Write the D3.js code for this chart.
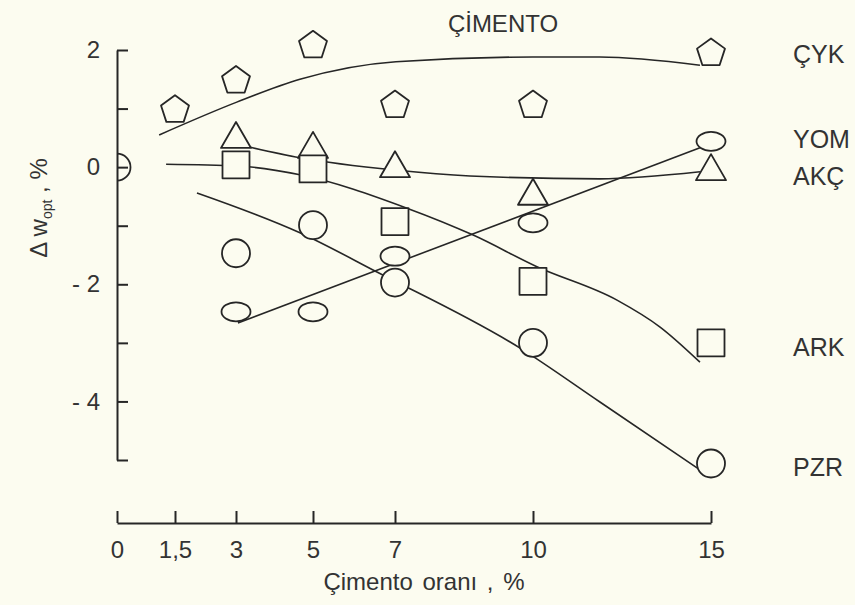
<!DOCTYPE html>
<html>
<head>
<meta charset="utf-8">
<script src="https://cdn.jsdelivr.net/npm/d3@7"></script>
<style>
  html, body { margin: 0; padding: 0; background: #fcfcf0; }
  svg { display: block; }
  text { font-family: "Liberation Sans", Arial, sans-serif; fill: #333; }
</style>
</head>
<body>
<svg id="chart" width="855" height="605"></svg>
<script>
// tick values of the cement axis (uneven spacing on the original drawing)
var xTicks = [0, 1.5, 3, 5, 7, 10, 15];
var xTickLabels = ['0', '1,5', '3', '5', '7', '10', '15'];
var yTicks = [-5, -4, -3, -2, -1, 0, 1, 2];

// measured points
var cykX = [1.5, 3, 5, 7, 10, 15];
var cykY = [1.0, 1.5, 2.1, 1.08, 1.08, 1.97];
var ptX = [3, 5, 7, 10, 15];
var yomY = [-2.47, -2.47, -1.52, -0.95, 0.44];
var akcY = [0.55, 0.38, 0.05, -0.42, 0.0];
var arkY = [0.04, -0.03, -0.93, -1.95, -3.0];
var pzrY = [-1.47, -0.99, -1.97, -3.0, -5.06];

// fitted curves
var cykFit = [[1.09, 0.55], [3.02, 1.11], [4.66, 1.50], [7.02, 1.80], [10, 1.88], [11.88, 1.88], [14.69, 1.74]];
var akcFit = [[3.23, 0.36], [4.66, 0.16], [7, -0.05], [8.63, -0.15], [11.88, -0.20], [14.69, -0.08]];
var yomFit = [[3.05, -2.66], [14.69, 0.33]];
var arkFit = [[1.27, 0.05], [3.03, 0.02], [4.66, -0.13], [7.26, -0.70], [8.70, -1.16], [10.11, -1.70], [12.36, -2.27], [13.57, -2.73], [14.69, -3.33]];
var pzrFit = [[2.04, -0.44], [4.66, -1.12], [6.56, -1.79], [9.72, -3.09], [11.88, -4.01], [14.69, -5.17]];

var seriesNames = ['ÇYK', 'YOM', 'AKÇ', 'ARK', 'PZR'];

var bg = '#fcfcf0', ink = '#262626';
var svg = d3.select('#chart');

var x = d3.scaleLinear().domain(xTicks).range([117, 175, 236, 313, 395, 533, 711]);
var y = d3.scaleLinear().domain([-5, 2]).range([460, 50]);

// axes
var yAxis = d3.axisLeft(y)
  .tickValues(yTicks)
  .tickSizeInner(-11)
  .tickSizeOuter(0)
  .tickPadding(17)
  .tickFormat(function (d) {
    if (d % 2 !== 0 || d < -4) return '';
    return d < 0 ? '- ' + (-d) : String(d);
  });

svg.append('g')
  .attr('transform', 'translate(117,0)')
  .call(yAxis)
  .call(function (g) {
    g.select('.domain').attr('stroke', ink).attr('stroke-width', 2);
    g.selectAll('.tick line').attr('stroke', ink).attr('stroke-width', 2);
    g.selectAll('.tick text').attr('font-size', 24).attr('fill', '#333')
      .attr('font-family', '"Liberation Sans", Arial, sans-serif');
  });

var xAxis = d3.axisBottom(x)
  .tickValues(xTicks)
  .tickSizeInner(-12)
  .tickSizeOuter(0)
  .tickPadding(18)
  .tickFormat(function (d, i) { return xTickLabels[i]; });

svg.append('g')
  .attr('transform', 'translate(0,523)')
  .call(xAxis)
  .call(function (g) {
    g.select('.domain').attr('stroke', ink).attr('stroke-width', 2);
    g.selectAll('.tick line').attr('stroke', ink).attr('stroke-width', 2);
    g.selectAll('.tick text').attr('font-size', 24).attr('fill', '#333')
      .attr('font-family', '"Liberation Sans", Arial, sans-serif');
  });

// fitted lines
var line = d3.line()
  .x(function (d) { return x(d[0]); })
  .y(function (d) { return y(d[1]); })
  .curve(d3.curveMonotoneX);

[cykFit, akcFit, yomFit, arkFit, pzrFit].forEach(function (pts) {
  svg.append('path')
    .attr('d', line(pts))
    .attr('fill', 'none')
    .attr('stroke', ink)
    .attr('stroke-width', 1.6);
});

// marker shapes, centred on 0,0
function pentagon(r) {
  var p = d3.path(), off = 0.0955 * r;
  for (var i = 0; i < 5; i++) {
    var a = -Math.PI / 2 + i * 2 * Math.PI / 5;
    var px = r * Math.cos(a), py = r * Math.sin(a) + off;
    if (i === 0) p.moveTo(px, py); else p.lineTo(px, py);
  }
  p.closePath();
  return p.toString();
}
function triangle(w, h) {
  return 'M0,' + (-h / 2) + 'L' + (w / 2) + ',' + (h / 2) + 'L' + (-w / 2) + ',' + (h / 2) + 'Z';
}
function square(s) {
  var h = s / 2;
  return 'M' + -h + ',' + -h + 'H' + h + 'V' + h + 'H' + -h + 'Z';
}
function ellipse(rx, ry) {
  return 'M' + -rx + ',0A' + rx + ',' + ry + ' 0 1,0 ' + rx + ',0A' + rx + ',' + ry + ' 0 1,0 ' + -rx + ',0Z';
}

function markers(xs, ys, shape) {
  svg.append('g').selectAll('path')
    .data(xs.map(function (v, i) { return [v, ys[i]]; }))
    .join('path')
    .attr('transform', function (d) { return 'translate(' + x(d[0]) + ',' + y(d[1]) + ')'; })
    .attr('d', shape)
    .attr('fill', bg)
    .attr('stroke', ink)
    .attr('stroke-width', 1.8)
    .attr('stroke-linejoin', 'round');
}

markers(cykX, cykY, pentagon(14.7));
markers(ptX, yomY, ellipse(14.5, 9.5));
markers(ptX, akcY, triangle(30, 26));
markers(ptX, arkY, square(27));
markers(ptX, pzrY, ellipse(14, 14));

// common origin, half circle against the axis
var half = d3.path();
half.arc(x(0), y(0), 13.5, -Math.PI / 2, Math.PI / 2);
svg.append('path')
  .attr('d', half.toString())
  .attr('fill', 'none')
  .attr('stroke', ink)
  .attr('stroke-width', 1.8);

// series names on the right
var lastVals = [cykY[5], yomY[4], akcY[4], arkY[4], pzrY[4]];
var nameShift = [11, 7, 18, 13, 12];
svg.append('g').selectAll('text')
  .data(seriesNames)
  .join('text')
  .attr('x', 793)
  .attr('y', function (d, i) { return y(lastVals[i]) + nameShift[i]; })
  .attr('font-size', 25)
  .text(function (d) { return d; });

// title
svg.append('text')
  .attr('x', 503).attr('y', 32)
  .attr('text-anchor', 'middle')
  .attr('font-size', 24)
  .text('ÇİMENTO');

// axis titles
svg.append('text')
  .attr('x', 424).attr('y', 590)
  .attr('text-anchor', 'middle')
  .attr('font-size', 24)
  .attr('word-spacing', 3)
  .text('Çimento oranı , %');

var yl = svg.append('text')
  .attr('transform', 'translate(47,208) rotate(-90)')
  .attr('text-anchor', 'middle')
  .attr('font-size', 24);
yl.append('tspan').text('Δ w');
yl.append('tspan').attr('font-size', 14).attr('dy', 5).text('opt');
yl.append('tspan').attr('dy', -5).text(' , %');
</script>
</body>
</html>
